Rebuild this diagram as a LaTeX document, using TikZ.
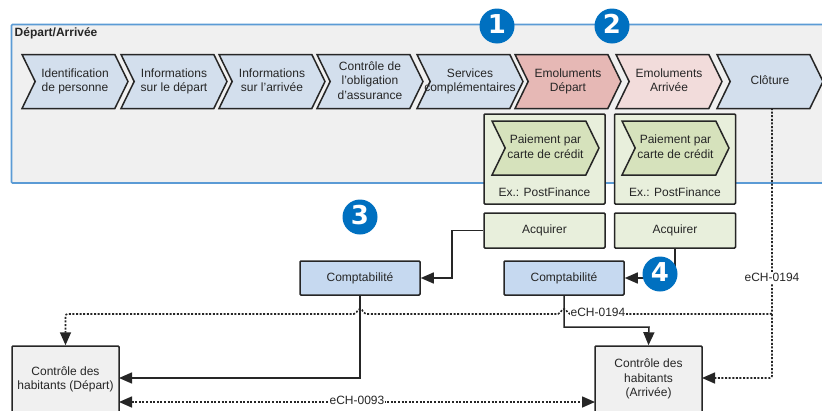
\documentclass[tikz,border=0pt]{standalone}
\usepackage{fontspec}
\setmainfont{Liberation Sans}
\newfontfamily\badgefont{DejaVu Sans}
\usepackage{xcolor}
\usetikzlibrary{calc}
\usetikzlibrary{positioning}
\usetikzlibrary{arrows.meta}
\usetikzlibrary{shapes.symbols}
\definecolor{linedark}{HTML}{262626}
\definecolor{frameblue}{HTML}{5B9BD5}
\definecolor{framefill}{HTML}{F0F0F0}
\definecolor{stepblue}{HTML}{D3DFED}
\definecolor{stepred}{HTML}{E6B8B5}
\definecolor{steppink}{HTML}{F2DCDB}
\definecolor{paylight}{HTML}{E8EFDC}
\definecolor{paygreen}{HTML}{D6E2BC}
\definecolor{compblue}{HTML}{C6D9F0}
\definecolor{badgeblue}{HTML}{0070C0}

\begin{document}
\begin{tikzpicture}[x=1pt,y=-1pt,on grid,node distance=98pt,
    every node/.style={font=\fontsize{12}{14.5}\selectfont,text=linedark,inner sep=0pt,align=center,execute at end node=\vphantom{dp}},
    chevron/.style={draw=linedark,line width=1.5pt,signal,signal from=west,signal to=east,signal pointer angle=128,minimum width=106pt,minimum height=54pt,fill=stepblue},
    paychevron/.style={chevron,fill=paygreen,minimum width=107pt},
    box/.style={draw=linedark,line width=1.5pt,rectangle,rounded corners=1pt,minimum width=121pt},
    flow/.style={draw=linedark,line width=1.5pt,-{Triangle[length=13pt,width=11pt]}},
    dots/.style={draw=linedark,line width=1.6pt,dash pattern=on 2pt off 1.6pt,rounded corners=2pt},
    badge/.style={circle,fill=badgeblue,minimum size=35pt,text=white,font=\fontsize{26}{26}\badgefont\bfseries\selectfont,execute at end node={}}]
    \useasboundingbox (0,0) rectangle (822,410);
    \draw[frameblue,fill=framefill,line width=1.6pt,rounded corners=1pt] (830,24.5) -- (11.5,24.5) -- (11.5,183) -- (830,183);
    \node[anchor=west,font=\fontsize{12}{14.5}\bfseries\selectfont] (title) at (14.5,33.5) {Départ/Arrivée};

    \node[chevron] (ident) at (75,81.5) {Identification\\de personne};
    \node[chevron] (dep) [right=99pt of ident] {Informations\\sur le départ};
    \node[chevron] (arr) [right=of dep] {Informations\\sur l’arrivée};
    \node[chevron] (oblig) [right=of arr] {Contrôle de\\l’obligation\\d’assurance};
    \node[chevron] (serv) [right=100pt of oblig] {Services\\\makebox[0pt]{complémentaires}};
    \node[chevron,fill=stepred] (emdep) [right=of serv] {Emoluments\\Départ};
    \node[chevron,fill=steppink] (emarr) [right=101pt of emdep] {Emoluments\\Arrivée};
    \node[chevron] (clot) [right=101pt of emarr] {Clôture};

    \node[box,fill=paylight,minimum height=90pt] (paya) at (544.5,159) {};
    \node[box,fill=paylight,minimum height=90pt] (payb) at (675,159) {};
    \node[paychevron] (carda) at (545.5,148) {Paiement par\\carte de crédit};
    \node[paychevron] (cardb) at (675.5,148) {Paiement par\\carte de crédit};
    \node (exa) at (544.5,193) {Ex.: PostFinance};
    \node (exb) at (675,193) {Ex.: PostFinance};

    \node[box,fill=paylight,minimum height=35pt] (acqa) at (544.5,230.5) {Acquirer};
    \node[box,fill=paylight,minimum height=35pt] (acqb) at (675,230.5) {Acquirer};
    \node[box,fill=compblue,minimum width=120pt,minimum height=34pt] (compa) at (360,278) {Comptabilité};
    \node[box,fill=compblue,minimum width=120pt,minimum height=34pt] (compb) at (564,278) {Comptabilité};
    \node[box,fill=framefill,minimum width=107pt,minimum height=70pt,text depth=6pt] (haba) at (65.5,381) {Contrôle des\\habitants (Départ)};
    \node[box,fill=framefill,minimum width=107pt,minimum height=70pt,text depth=6pt] (habb) at (648.5,381) {Contrôle des\\habitants\\(Arrivée)};

    \coordinate (cornera) at (452,230.5);
    \coordinate (bendb) at (649,327);
    \coordinate (dotdown) at (772,314);
    \coordinate (dotup) at (772,108);
    \coordinate (jumpa) at (568,314);
    \coordinate (jumpb) at (560,314);
    \coordinate (jumpc) at (364,314);
    \coordinate (jumpd) at (356,314);
    \coordinate (dotleft) at (65.5,314);

    \draw[flow] (acqa.west) -- (cornera) |- (compa.east);
    \draw[flow] (acqb.south) |- (compb.east);
    \draw[flow] (compa.south) |- (119,378);
    \draw[flow] (compb.south) |- (bendb) -- (habb.north);
    \draw[dots,-{Triangle[length=13pt,width=11pt]}] (dotup) -- (dotdown) -- (jumpa) .. controls ($(jumpa)+(-2,-6)$) and ($(jumpb)+(2,-6)$) .. (jumpb) -- (jumpc) .. controls ($(jumpc)+(-2,-6)$) and ($(jumpd)+(2,-6)$) .. (jumpd) -- (dotleft) -- (haba.north);
    \draw[dots,-{Triangle[length=13pt,width=11pt]}] (dotdown) |- (702,378);
    \draw[dots,{Triangle[length=13pt,width=11pt]}-{Triangle[length=13pt,width=11pt]}] (119,402) -- (595,402);

    \node[fill=white,inner xsep=1pt] (echa) at (772,278) {eCH-0194};
    \node[fill=white,inner xsep=1pt] (echb) at (598,313) {eCH-0194};
    \node[fill=white,inner xsep=1pt] (echc) at (357,401.5) {eCH-0093};

    \node[badge] (one) at (497,26) {1};
    \node[badge] (two) at (612,26) {2};
    \node[badge] (three) at (360,217) {3};
    \node[badge] (four) at (660,274) {4};
\end{tikzpicture}
\end{document}
